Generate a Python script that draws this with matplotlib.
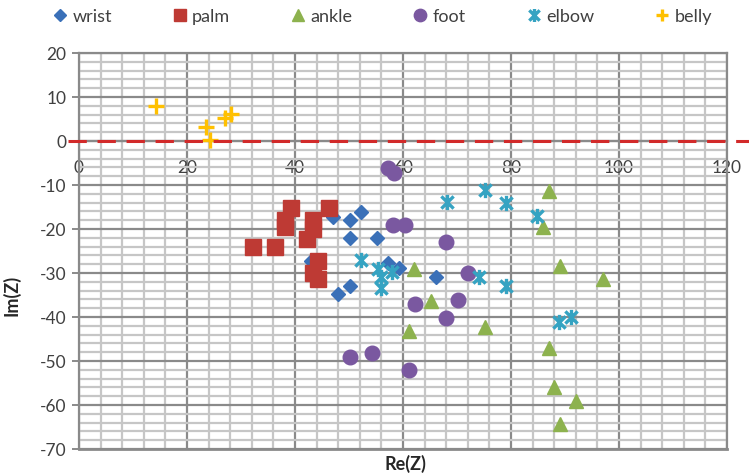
import matplotlib
matplotlib.use("Agg")
import matplotlib.pyplot as plt
from matplotlib.path import Path
from matplotlib.ticker import MultipleLocator

plt.rcParams['font.family'] = ['Lato', 'DejaVu Sans']
plt.rcParams['axes.unicode_minus'] = False

# ---- data (Re(Z), Im(Z)) ----
wrist_re = [47.1, 50.2, 52.2, 50.2, 55.2, 43.0, 57.3, 59.2, 50.2, 48.0, 66.1]
wrist_im = [-17.2, -18.0, -16.1, -22.1, -22.1, -27.2, -27.7, -28.8, -32.9, -34.8, -31.0]

palm_re = [39.3, 46.3, 38.2, 38.2, 43.4, 43.4, 42.2, 32.3, 36.3, 44.3, 43.3, 44.3]
palm_im = [-15.2, -15.2, -18.0, -19.5, -18.0, -20.0, -22.3, -24.2, -24.2, -27.2, -30.0, -31.4]

ankle_re = [62.1, 65.1, 61.1, 87.0, 85.9, 89.1, 97.0, 75.1, 87.0, 88.0, 92.0, 89.1]
ankle_im = [-29.1, -36.3, -43.1, -11.3, -19.5, -28.3, -31.4, -42.3, -47.1, -56.0, -59.0, -64.3]

foot_re = [57.3, 58.3, 58.1, 60.3, 68.0, 72.0, 62.2, 70.2, 67.9, 50.2, 54.2, 61.1]
foot_im = [-6.1, -7.3, -19.2, -19.2, -23.0, -30.1, -37.0, -36.1, -40.3, -49.2, -48.2, -52.0]

elbow_re = [52.2, 55.4, 56.0, 56.0, 57.9, 68.1, 75.1, 79.1, 84.8, 74.0, 79.1, 88.9, 91.1]
elbow_im = [-27.0, -29.1, -31.0, -33.3, -29.8, -13.8, -11.1, -14.1, -17.0, -31.0, -32.9, -41.1, -39.9]

belly_re = [14.3, 23.5, 24.3, 27.0, 28.2]
belly_im = [8.0, 3.2, 0.3, 5.2, 6.2]

x_ticks = [0, 20, 40, 60, 80, 100, 120]
y_ticks = [20, 10, 0, -10, -20, -30, -40, -50, -60, -70]

# star marker (X with vertical bar), like Excel's
star = Path([(-1, -1), (1, 1), (-1, 1), (1, -1), (0, -1.25), (0, 1.25)],
            [Path.MOVETO, Path.LINETO, Path.MOVETO, Path.LINETO, Path.MOVETO, Path.LINETO])

fig = plt.figure(figsize=(7.49, 4.77), dpi=100)
ax = fig.add_axes([79/749, 1 - 450/477, (727 - 79)/749, (450 - 54)/477])

ax.set_xlim(0, 120)
ax.set_ylim(-70, 20)
ax.xaxis.set_minor_locator(MultipleLocator(4))
ax.yaxis.set_minor_locator(MultipleLocator(2))
ax.set_xticks(x_ticks)
ax.set_yticks(y_ticks)
ax.grid(which='minor', color='#c6c6c6', linewidth=1.6)
ax.grid(which='major', color='#8a8a8a', linewidth=1.6)
ax.set_axisbelow(True)

for s in ['top', 'right', 'left', 'bottom']:
    ax.spines[s].set_color('#8a8a8a')
    ax.spines[s].set_linewidth(1.6)
ax.spines['bottom'].set_position(('data', 0))
ax.axhline(-70, color='#8a8a8a', lw=2.0, clip_on=False, zorder=1)

ax.tick_params(axis='x', which='both', length=0, pad=13, labelsize=12.5, labelcolor='#404040')
ax.tick_params(axis='y', which='major', length=5, width=1.4, color='#8a8a8a', pad=4,
               labelsize=12.5, labelcolor='#404040')
ax.tick_params(axis='y', which='minor', length=0)

ms = dict(linestyle='none')
ax.plot(wrist_re, wrist_im, marker='D', markersize=7, color='#3A70B8', mec='#3A70B8', label='wrist', zorder=3, **ms)
ax.plot(palm_re, palm_im, marker='s', markersize=11, color='#BE3A34', mec='#BE3A34', label='palm', zorder=3, **ms)
ax.plot(ankle_re, ankle_im, marker='^', markersize=10, color='#8DB24E', mec='#8DB24E', label='ankle', zorder=3, **ms)
ax.plot(foot_re, foot_im, marker='o', markersize=10.5, color='#7A58A0', mec='#7A58A0', label='foot', zorder=3, **ms)
ax.plot(elbow_re, elbow_im, marker=star, markersize=11, color='#35A3C2', mec='#35A3C2', mew=2.4,
        mfc='none', label='elbow', zorder=3, **ms)
ax.plot(belly_re, belly_im, marker='+', markersize=11, color='#FFC000', mec='#FFC000', mew=2.4,
        label='belly', zorder=3, **ms)

# red dashed reference line at Im(Z)=0, extending beyond the plot frame
ax.axhline(0, xmin=-0.017, xmax=1.05, color='#D22A2A', lw=2.2, dashes=(6, 3.5),
           clip_on=False, zorder=4)

ax.set_xlabel('Re(Z)', fontsize=13, fontweight='bold', color='#262626')
ax.xaxis.set_label_coords(0.503, -0.012)
ax.set_ylabel('Im(Z)', fontsize=13, fontweight='bold', color='#262626')
ax.yaxis.set_label_coords(-0.09, 0.39)

fig.legend(loc='center', bbox_to_anchor=(0.51, 1 - 17/477), ncol=6, frameon=False,
           fontsize=13, handlelength=0.9, handletextpad=0.25, columnspacing=3.3,
           labelcolor='#404040', markerscale=0.85)

fig.savefig('out.png', dpi=100, facecolor='white')
